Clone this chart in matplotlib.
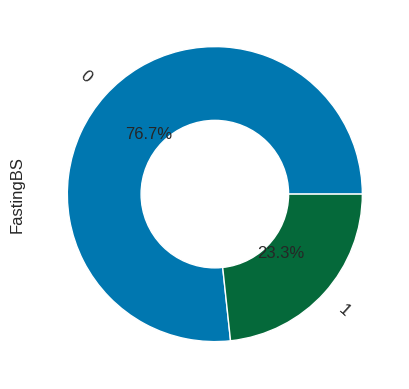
import matplotlib
matplotlib.use('Agg')
import matplotlib.pyplot as plt
import seaborn as sns

sns.set_style('white')
plt.rcParams['font.family'] = ['Liberation Sans', 'DejaVu Sans']

labels = ['0', '1']
values = [76.7, 23.3]
colors = ['#0077b0', '#05693a']

fig, ax = plt.subplots(figsize=(4.1, 3.89), dpi=100)
ax.pie(values, labels=labels, colors=colors, autopct='%.1f%%',
       rotatelabels=True, startangle=0,
       wedgeprops={'linewidth': 1, 'edgecolor': 'white'},
       textprops={'fontsize': 12, 'color': '#262626'})
ax.add_artist(plt.Circle((0, 0), 0.5, color='white'))
ax.set_ylabel('FastingBS', fontsize=12, color='#262626')
fig.subplots_adjust(left=0.074, right=0.974, bottom=0.027, top=0.975)
plt.savefig('out.png', dpi=100)
